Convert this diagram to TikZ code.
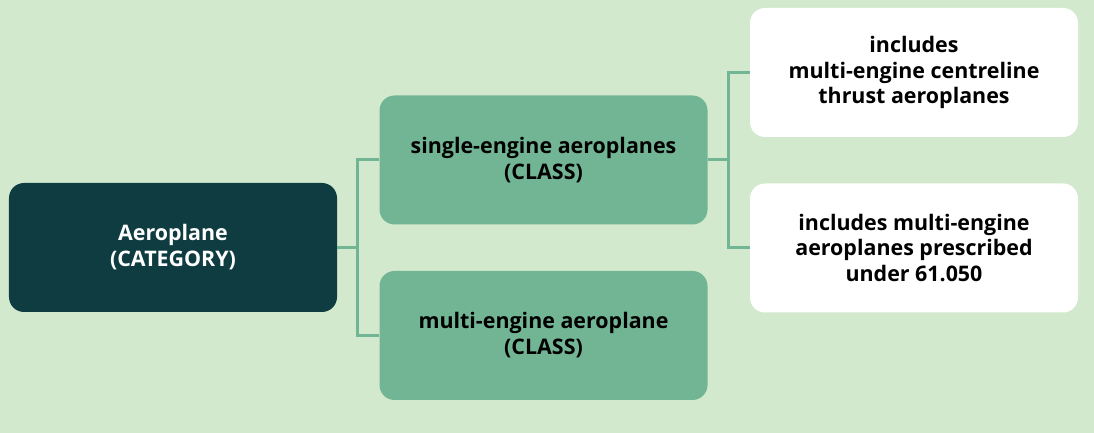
\documentclass[tikz,border=0pt]{standalone}
\usepackage{fontspec}
\setmainfont{Open Sans}
\usetikzlibrary{positioning,calc}

\definecolor{bgGreen}{HTML}{D3E9CE}
\definecolor{darkTeal}{HTML}{0E3C40}
\definecolor{midGreen}{HTML}{72B594}

\tikzset{
  box/.style={rounded corners=15bp, minimum width=328bp, minimum height=129bp,
    align=center, font=\fontsize{21.5}{26}\selectfont\bfseries, inner sep=0pt},
  catbox/.style={box, fill=darkTeal, text=white},
  classbox/.style={box, fill=midGreen, text=black},
  notebox/.style={box, fill=white, text=black},
  link/.style={midGreen, line width=3bp}
}

\begin{document}
\begin{tikzpicture}[x=1bp,y=1bp]
  % Hintergrund
  \fill[bgGreen] (0,0) rectangle (1094,433);
  \useasboundingbox (0,0) rectangle (1094,433);

  % Kategorie
  \node[catbox] (cat) at (173,185.5) {Aeroplane\\(CATEGORY)};

  % Klassen
  \node[classbox] (single) at (543.5,273) {single-engine aeroplanes\\(CLASS)};
  \node[classbox] (multi) at (543.5,97.5) {multi-engine aeroplane\\(CLASS)};

  % Hinweise
  \node[notebox] (incA) at (914,360.5) {includes\\multi-engine centreline\\thrust aeroplanes};
  \node[notebox] (incB) at (914,185) {includes multi-engine\\aeroplanes prescribed\\under 61.050};

  % Verbindungen
  \coordinate (j1) at ($(cat.east)+(20,0)$);
  \draw[link] (cat.east) -- (j1);
  \draw[link] (j1) |- (single.west);
  \draw[link] (j1) |- (multi.west);

  \coordinate (j2) at ($(single.east)+(21,0)$);
  \draw[link] (single.east) -- (j2);
  \draw[link] (j2) |- (incA.west);
  \draw[link] (j2) |- (incB.west);
\end{tikzpicture}
\end{document}
